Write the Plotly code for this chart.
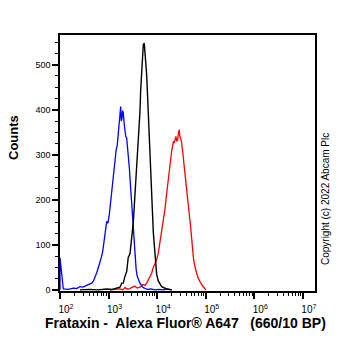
import plotly.graph_objects as go

# ---- data (fluorescence intensity, counts) ----
blue_x = [100, 100, 117, 150, 185, 220, 258, 300, 354, 400, 449, 490, 525, 570, 614, 665, 710, 756,
          816, 860, 915, 970, 1034, 1100, 1158, 1200, 1250, 1300, 1355, 1430, 1511, 1580, 1661, 1720,
          1775, 1830, 1888, 1950, 2006, 2090, 2175, 2260, 2356, 2470, 2592, 2680, 2757, 2870, 2987,
          3100, 3223, 3380, 3543, 3700, 3899, 4150, 4427, 4800, 5177, 5700, 6255, 7500, 9000, 11000,
          13500, 16000, 18500, 20000]
blue_y = [0, 71, 2, 1, 4, 3, 7, 6, 10, 12, 15, 20, 27, 38, 49, 60, 72, 85,
          107, 130, 152, 148, 167, 195, 218, 240, 263, 270, 293, 310, 322, 345, 363, 380,
          407, 375, 381, 398, 393, 370, 352, 340, 338, 318, 293, 270, 249, 220, 189,
          158, 122, 92, 63, 45, 30, 20, 15, 9, 5, 3, 1, 2, 0, 1, 0, 2, 1, 0]

black_x = [258, 400, 600, 915, 1175, 1469, 1718, 1862, 2006, 2175, 2356, 2541, 2757, 2987, 3070,
           3230, 3380, 3520, 3664, 3787, 3899, 4060, 4224, 4427, 4573, 4720, 4864, 5020, 5177,
           5430, 5691, 6079, 6300, 6559, 6830, 7109, 7530, 7930, 8318, 8590, 9010, 9440, 9770,
           10540, 11400, 12390, 15680, 20180]
black_y = [0, 1, 0, 2, 1, 4, 6, 15, 15, 30, 40, 72, 80, 115, 125,
           150, 185, 215, 256, 285, 307, 345, 374, 395, 441, 470, 507, 530, 544,
           548, 522, 478, 440, 390, 350, 310, 230, 156, 130, 110, 85, 52, 35,
           20, 12, 7, 2, 0]

red_x = [1070, 1400, 1718, 1950, 2175, 2450, 2757, 3100, 3490, 3900, 4427, 5100, 5600, 6079,
         6620, 7150, 7710, 8300, 9010, 9700, 10540, 11150, 11810, 12400, 12980, 13500, 13990,
         14600, 15170, 15800, 16440, 17100, 17740, 18500, 19230, 20000, 20830, 21600, 22480,
         23400, 24370, 25400, 26400, 27400, 28500, 29400, 30430, 31600, 32830, 34200, 35560,
         37000, 38540, 40000, 41580, 43300, 45080, 46900, 48860, 50700, 52710, 55300, 57960,
         61000, 65000, 70000, 76030, 82000, 88940, 95000, 100900]
red_y = [0, 1, 2, 0, 5, 2, 3, 6, 8, 4, 6, 12, 10, 15,
         22, 28, 37, 50, 59, 66, 81, 98, 111, 128, 141, 160, 170,
         182, 200, 218, 230, 252, 267, 285, 296, 310, 319, 330, 326,
         338, 341, 330, 333, 346, 356, 340, 337, 330, 319, 300, 281,
         262, 244, 222, 200, 188, 170, 158, 141, 118, 96, 75, 59,
         46, 37, 26, 18, 12, 7, 3, 0]

x_tickvals = [1e2, 1e3, 1e4, 1e5, 1e6, 1e7]
x_ticktext = ["10<sup>2</sup>", "10<sup>3</sup>", "10<sup>4</sup>",
              "10<sup>5</sup>", "10<sup>6</sup>", "10<sup>7</sup>"]

x_title = "Frataxin -&nbsp; Alexa Fluor® A647 &nbsp; (660/10 BP)"
y_title = "Counts"
copyright_text = "Copyright (c) 2022 Abcam Plc"

FONT = "Liberation Sans, Arial, sans-serif"

fig = go.Figure()
fig.add_trace(go.Scatter(x=red_x, y=red_y, mode="lines",
                         line=dict(color="#ff0000", width=1.3), showlegend=False))
fig.add_trace(go.Scatter(x=blue_x, y=blue_y, mode="lines",
                         line=dict(color="#0000ff", width=1.3), showlegend=False))
fig.add_trace(go.Scatter(x=black_x, y=black_y, mode="lines",
                         line=dict(color="#000000", width=1.4), showlegend=False))

minor_vals = [m * 10 ** d for d in range(2, 8) for m in range(2, 10)]

fig.update_layout(
    width=362, height=351,
    margin=dict(l=60, r=47, t=35, b=60),
    paper_bgcolor="white", plot_bgcolor="white",
    font=dict(family=FONT, color="black"),
    xaxis=dict(
        type="log", range=[2, 7.25],
        tickmode="array", tickvals=x_tickvals, ticktext=x_ticktext,
        ticks="outside", ticklen=6, tickwidth=1.5, tickcolor="black",
        tickfont=dict(size=10, family=FONT), ticklabelshift=6, ticklabelstandoff=2,
        minor=dict(tickmode="array", tickvals=minor_vals, ticks="outside",
                   ticklen=3, tickwidth=1, tickcolor="black"),
        showline=True, linecolor="black", linewidth=1.5, mirror=True,
        showgrid=False, zeroline=False,
    ),
    yaxis=dict(
        range=[-2.5, 566], tickmode="linear", tick0=0, dtick=100,
        ticks="outside", ticklen=6, tickwidth=1.5, tickcolor="black",
        tickfont=dict(size=9, family=FONT),
        minor=dict(dtick=25, tick0=0, ticks="outside", ticklen=3,
                   tickwidth=1, tickcolor="black"),
        showline=True, linecolor="black", linewidth=1.5, mirror=True,
        showgrid=False, zeroline=False,
    ),
    annotations=[
        dict(text="<b>" + x_title + "</b>", xref="paper", yref="paper",
             x=0.494, y=-0.125, xanchor="center", yanchor="middle",
             showarrow=False, font=dict(size=14, family=FONT)),
        dict(text="<b>" + y_title + "</b>", xref="paper", yref="paper",
             x=-0.18, y=0.598, xanchor="center", yanchor="middle",
             textangle=-90, showarrow=False, font=dict(size=13, family=FONT)),
        dict(text=copyright_text, xref="paper", yref="paper",
             x=1.041, y=0.361, xanchor="center", yanchor="middle",
             textangle=-90, showarrow=False, font=dict(size=10, family=FONT)),
    ],
)

fig.write_html("out.html")
